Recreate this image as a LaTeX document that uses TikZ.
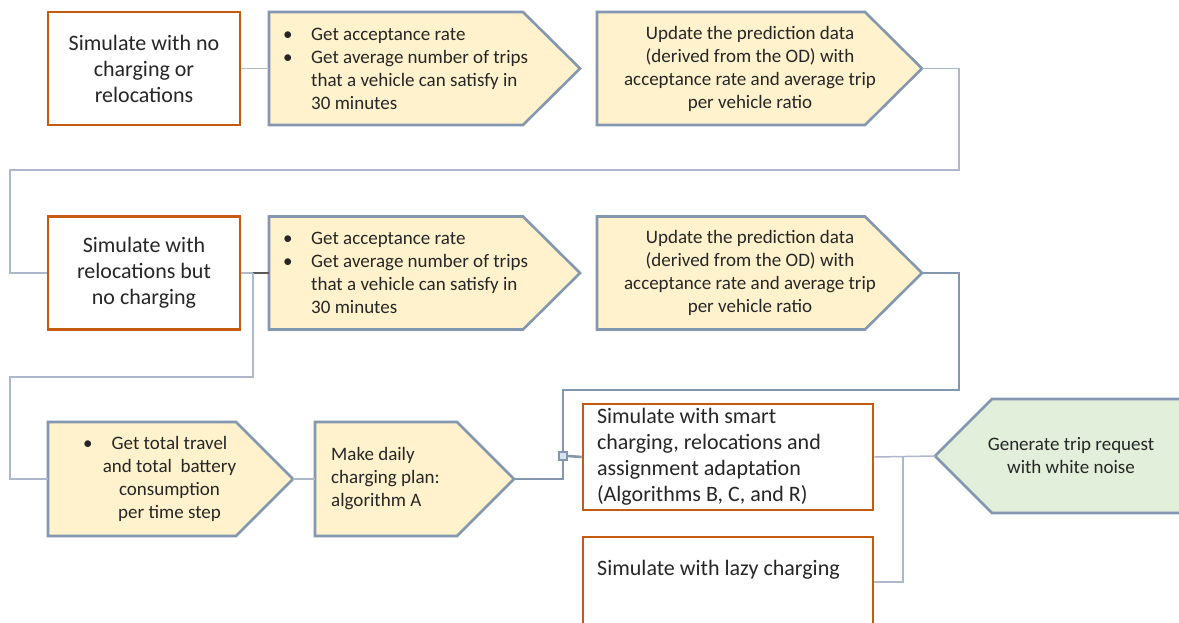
\documentclass[tikz,border=0pt]{standalone}
\usepackage{fontspec}
\setmainfont{Carlito}
\usetikzlibrary{calc}
\definecolor{redc}{HTML}{C55A11}
\definecolor{blueg}{HTML}{8497B0}
\definecolor{thinc}{HTML}{ADB9CA}
\definecolor{yel}{HTML}{FFF2CC}
\definecolor{grn}{HTML}{E2EFDA}
\definecolor{sqfill}{HTML}{DAE3F3}
\definecolor{txtc}{HTML}{262626}
\begin{document}
\begin{tikzpicture}[x=1pt,y=-1pt,
  redbox/.style={draw=redc, line width=2.6pt, fill=white, align=center, text=txtc,
    font=\fontsize{22}{26}\selectfont},
  pent/.style={draw=blueg, line width=2.6pt, fill=yel, line join=miter},
  greenpent/.style={draw=blueg, line width=2.6pt, fill=grn, line join=miter},
  txt/.style={inner sep=0pt, text=txtc, font=\fontsize{19}{23}\selectfont},
  conn/.style={draw=thinc, line width=1.5pt},
  darkseg/.style={draw=black!65, line width=1.5pt},
  thickconn/.style={draw=blueg, line width=2.6pt},
  sqnode/.style={draw=blueg, fill=sqfill, line width=1.2pt, minimum size=8pt, inner sep=0pt}
]
\useasboundingbox (0,0) rectangle (1179,622);
\clip (0,0) rectangle (1179,622);

% ---------- Row 1 ----------
\node[redbox, minimum width=192, minimum height=113] (a1) at (144,68.5)
  {Simulate with no\\charging or\\relocations};

\draw[pent] (269,12) -- (523,12) -- (580,68.5) -- (523,125) -- (269,125) -- cycle;
\coordinate (b1w) at (269,68.5);
\coordinate (b1e) at (580,68.5);
\node[txt, anchor=west, align=left] (b1) at (283,68.5)
  {\makebox[28pt][l]{•}Get acceptance rate\\
   \makebox[28pt][l]{•}Get average number of trips\\
   \hspace*{28pt}that a vehicle can satisfy in\\
   \hspace*{28pt}30 minutes};

\draw[pent] (597,12) -- (865,12) -- (922,68.5) -- (865,125) -- (597,125) -- cycle;
\coordinate (c1w) at (597,68.5);
\coordinate (c1e) at (922,68.5);
\node[txt, align=center] (c1) at (750,68.5)
  {Update the prediction data\\(derived from the OD) with\\acceptance rate and average trip\\per vehicle ratio};

% ---------- Row 2 ----------
\node[redbox, minimum width=192, minimum height=113] (a2) at (144,273)
  {Simulate with\\relocations but\\no charging};

\draw[pent] (269,216.5) -- (523,216.5) -- (580,273) -- (523,329.5) -- (269,329.5) -- cycle;
\coordinate (b2w) at (269,273);
\coordinate (b2e) at (580,273);
\node[txt, anchor=west, align=left] (b2) at (283,273)
  {\makebox[28pt][l]{•}Get acceptance rate\\
   \makebox[28pt][l]{•}Get average number of trips\\
   \hspace*{28pt}that a vehicle can satisfy in\\
   \hspace*{28pt}30 minutes};

\draw[pent] (597,216.5) -- (865,216.5) -- (922,273) -- (865,329.5) -- (597,329.5) -- cycle;
\coordinate (c2w) at (597,273);
\coordinate (c2e) at (922,273);
\node[txt, align=center] (c2) at (750,273)
  {Update the prediction data\\(derived from the OD) with\\acceptance rate and average trip\\per vehicle ratio};

% ---------- Row 3 ----------
\draw[pent] (48,422) -- (236,422) -- (293,479) -- (236,536) -- (48,536) -- cycle;
\coordinate (a3w) at (48,479);
\coordinate (a3e) at (293,479);
\node[txt, align=center] (a3) at (169.5,479)
  {\llap{•\hspace{19pt}}Get total travel\\and total\ \ battery\\consumption\\per time step};

\draw[pent] (315,422) -- (457,422) -- (514,479) -- (457,536) -- (315,536) -- cycle;
\coordinate (b3w) at (315,479);
\coordinate (b3e) at (514,479);
\node[txt, anchor=west, align=left] (b3) at (331,479)
  {Make daily\\charging plan:\\algorithm A};

\node[redbox, minimum width=290, minimum height=106, align=flush left, text width=262, inner xsep=14pt] (smart) at (728,457)
  {Simulate with smart\\charging, relocations and\\assignment adaptation\\(Algorithms B, C, and R)};

\node[redbox, minimum width=290, minimum height=90] (lazy) at (728,582) {};
\node[txt, anchor=west, font=\fontsize{22}{26}\selectfont] (lazytxt) at (597,570) {Simulate with lazy charging};

\draw[greenpent] (1190,399) -- (992,399) -- (935,456) -- (992,513) -- (1190,513) -- cycle;
\coordinate (gw) at (935,456);
\node[txt, align=center] (g) at (1071,456) {Generate trip request\\with white noise};

\node[sqnode] (sq) at (563,456) {};

% ---------- Connectors ----------
\draw[conn] (a1.east) -- (b1w);
\draw[conn] (c1e) -- (959,68.5) -- (959,170) -- (10,170) -- (10,273) -- (a2.west);
\draw[conn] (a2.east) -- (b2w);
\coordinate (j1) at (253,273);
\draw[darkseg] (j1) -- (b2w);
\draw[conn] (j1) -- (253,377) -- (10,377) -- (10,479) -- (a3w);
\draw[conn] (a3e) -- (b3w);
\draw[thickconn] (c2e) -- (959,273) -- (959,390) -- (563,390) -- (sq.north);
\draw[thickconn] (sq.south) -- (563,479) -- (b3e);
\draw[thickconn] (sq.east) -- (smart.west);
\node[sqnode] at (sq) {};
\draw[conn] (smart.east) -- (gw);
\coordinate (j2) at (903,456);
\draw[conn] (j2) |- (lazy.east);
\end{tikzpicture}
\end{document}
